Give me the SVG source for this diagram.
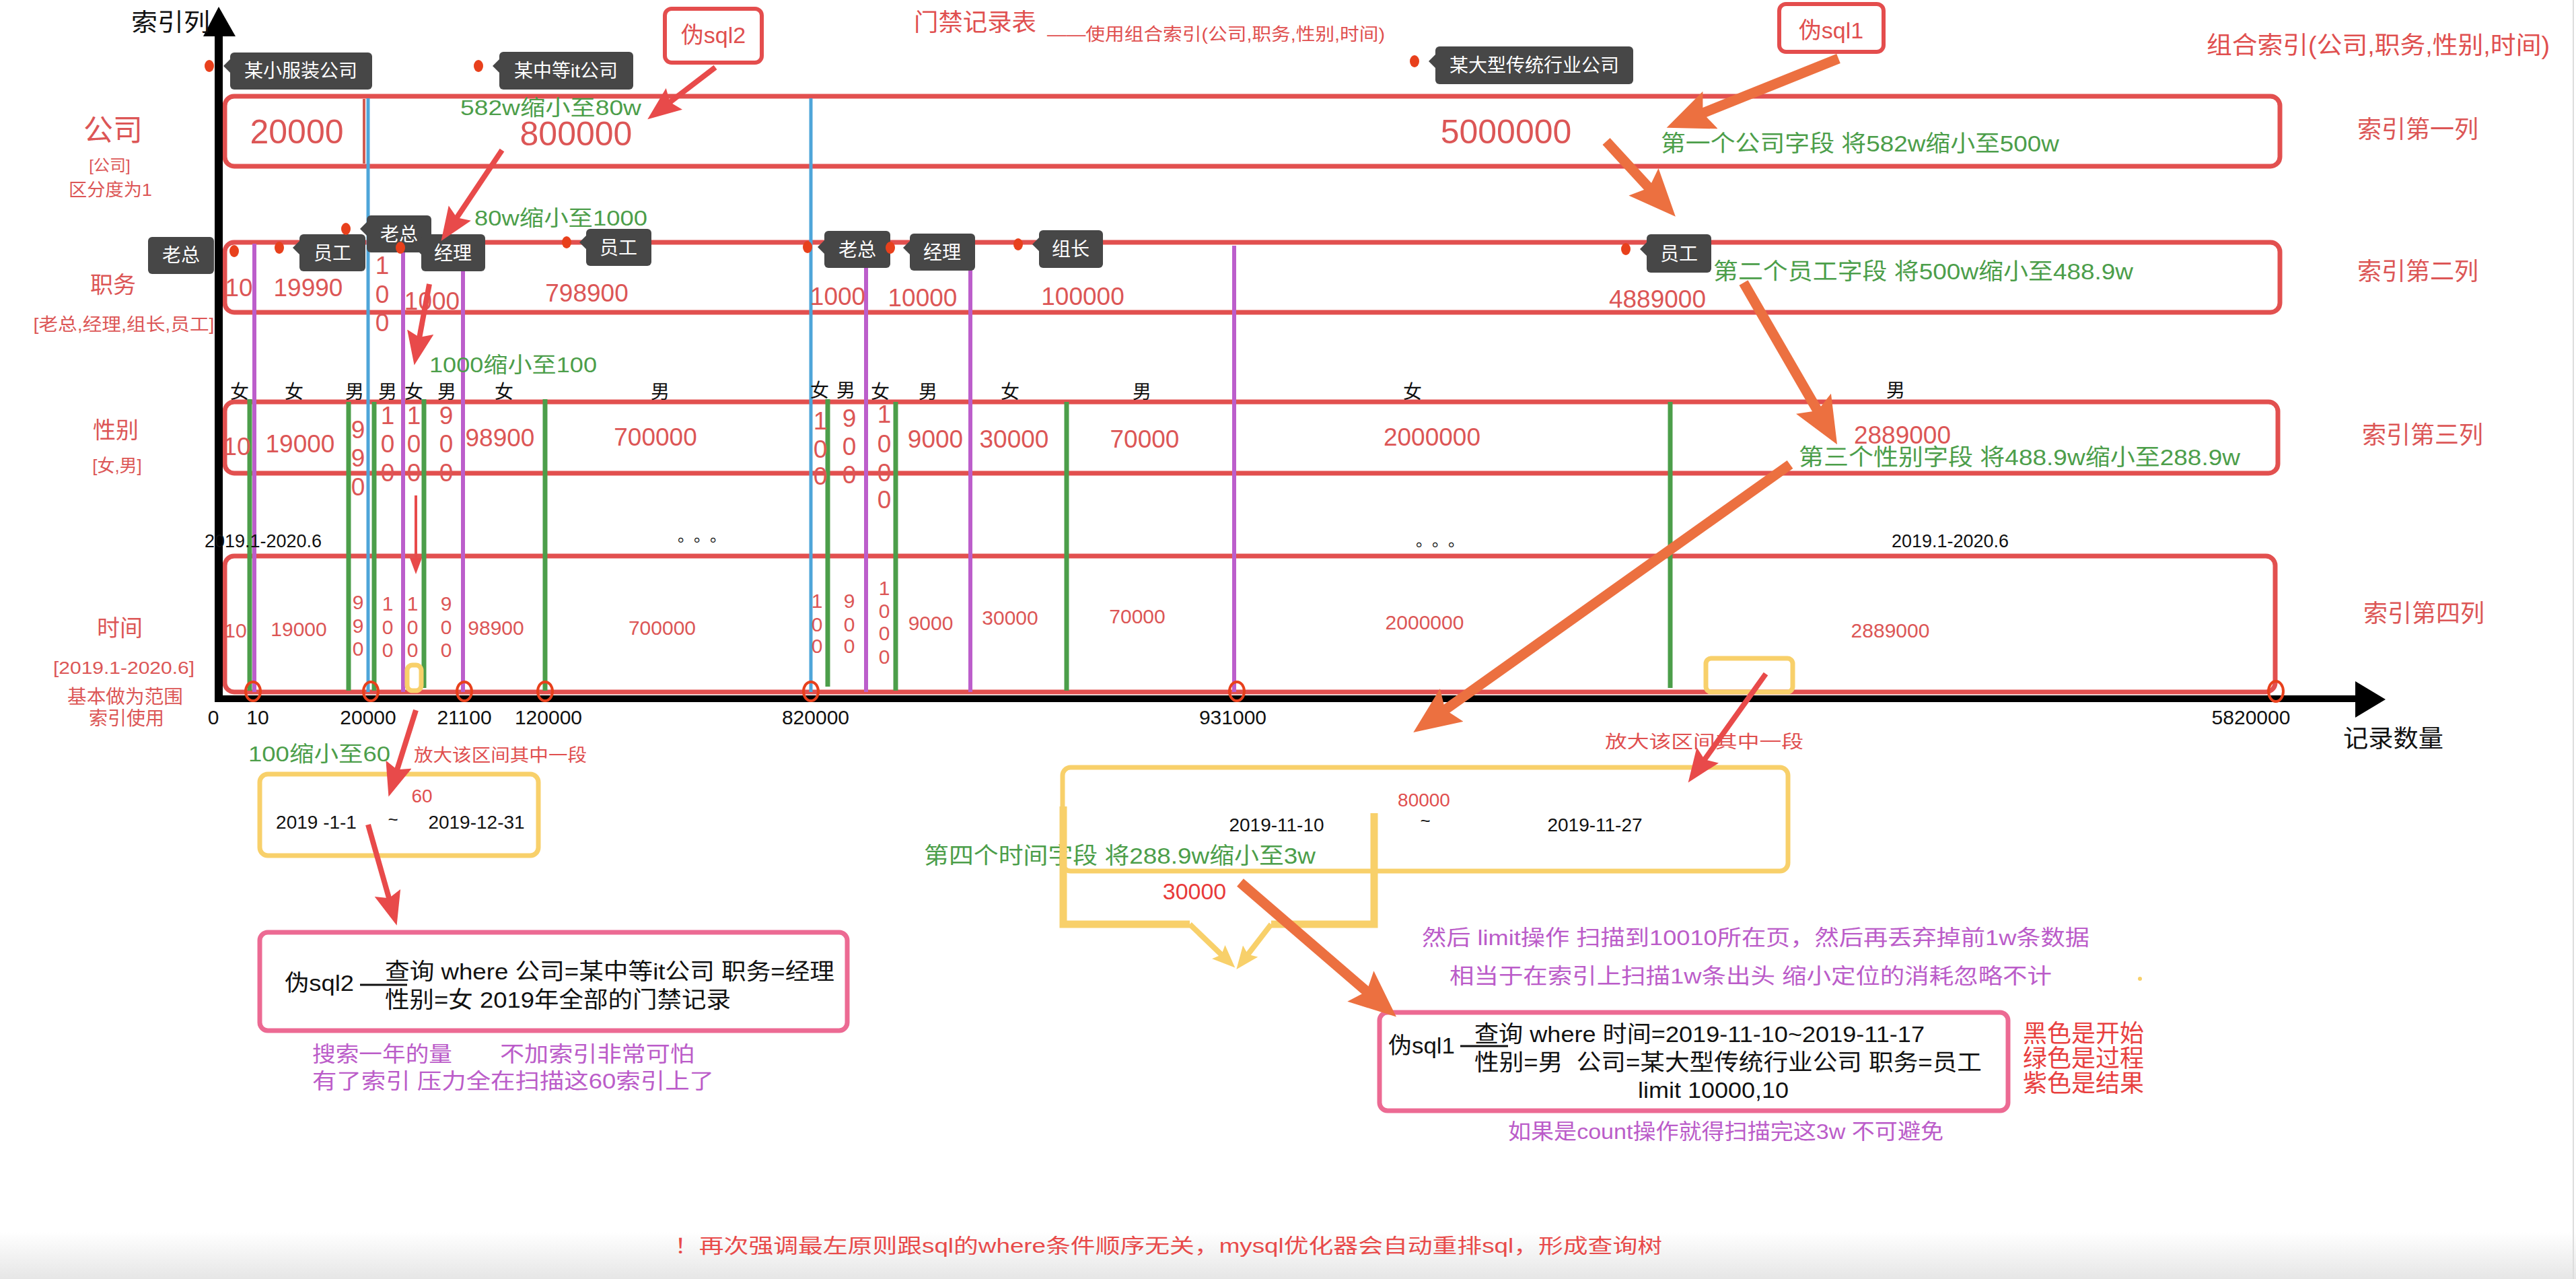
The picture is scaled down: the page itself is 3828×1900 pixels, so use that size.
<svg xmlns="http://www.w3.org/2000/svg" width="3828" height="1900" viewBox="0 0 3828 1900">
<defs>
<style>
text{font-family:"Liberation Sans","Noto Sans CJK SC",sans-serif}
.row{fill:none;stroke:#e2504f;stroke-width:7}
.tagbg{fill:#474747}
.tagtx{fill:#fff;font-size:28px;text-anchor:middle}
.dot{fill:#e8401c}
.n1{fill:#dc5656;font-size:50px;text-anchor:middle}
.n2{fill:#dc5656;font-size:37px;text-anchor:middle}
.n4{fill:#dc5656;font-size:30px;text-anchor:middle}
.g{fill:#4c9e4a;font-size:32px}
.g2{fill:#4c9e4a;font-size:34px}
.r{fill:#e04f4f}
.p{fill:#bb5cc9;font-size:32px}
.k{fill:#111}
.sex{fill:#111;font-size:28px;text-anchor:middle}
.tick{fill:#111;font-size:30px;text-anchor:middle}
.lab{fill:#dc5656;text-anchor:middle}
.blue{stroke:#4ea5d9;stroke-width:5}
.purple{stroke:#bc5ecb;stroke-width:6}
.green{stroke:#4c9e4a;stroke-width:7}
.circ{fill:none;stroke:#e8401c;stroke-width:4}
.yel{fill:none;stroke:#f8d06a;stroke-width:7}
.pink{fill:none;stroke:#ec6a93;stroke-width:7}
.oarr{stroke:#ec7040;stroke-width:15;fill:none;marker-end:url(#mo)}
.rarr{stroke:#e84a4a;stroke-width:8;fill:none;marker-end:url(#mr)}
</style>
<marker id="mo" markerUnits="userSpaceOnUse" markerWidth="80" markerHeight="70" refX="20" refY="30" orient="auto"><path d="M0,0 L70,30 L0,60 L12,30 Z" fill="#ec7040"/></marker>
<marker id="mr" markerUnits="userSpaceOnUse" markerWidth="60" markerHeight="50" refX="15" refY="20" orient="auto"><path d="M0,0 L50,20 L0,40 L8,20 Z" fill="#e84a4a"/></marker>
<marker id="ms" markerUnits="userSpaceOnUse" markerWidth="30" markerHeight="24" refX="8" refY="9" orient="auto"><path d="M0,0 L24,9 L0,18 Z" fill="#e84a4a"/></marker>
<marker id="my" markerUnits="userSpaceOnUse" markerWidth="40" markerHeight="34" refX="10" refY="14" orient="auto"><path d="M0,0 L34,14 L0,28 L6,14 Z" fill="#f8d06a"/></marker>
<linearGradient id="bot" x1="0" y1="0" x2="0" y2="1"><stop offset="0" stop-color="#ffffff"/><stop offset="1" stop-color="#e6e6e6"/></linearGradient>
</defs>
<rect width="3828" height="1900" fill="#fff"/>
<rect x="0" y="1830" width="3828" height="70" fill="url(#bot)"/>
<line x1="3824" y1="0" x2="3824" y2="1900" stroke="#dddddd" stroke-width="2"/>

<g id="title">
<text x="1358" y="46" class="r" font-size="36" textLength="182" lengthAdjust="spacingAndGlyphs">门禁记录表</text>
<text x="1556" y="60" class="r" font-size="26" textLength="502" lengthAdjust="spacingAndGlyphs">——使用组合索引(公司,职务,性别,时间)</text>
<text x="3279" y="80" class="r" font-size="36" textLength="510" lengthAdjust="spacingAndGlyphs">组合索引(公司,职务,性别,时间)</text>
</g>

<g id="row-labels">
<text x="168" y="209" class="lab" font-size="44">公司</text>
<text x="163" y="254" class="lab" font-size="24">[公司]</text>
<text x="164" y="291" class="lab" font-size="26" textLength="124" lengthAdjust="spacingAndGlyphs">区分度为1</text>
<text x="168" y="435" class="lab" font-size="34">职务</text>
<text x="184" y="491" class="lab" font-size="26" textLength="269" lengthAdjust="spacingAndGlyphs">[老总,经理,组长,员工]</text>
<text x="172" y="651" class="lab" font-size="34">性别</text>
<text x="174" y="701" class="lab" font-size="26">[女,男]</text>
<text x="178" y="945" class="lab" font-size="34">时间</text>
<text x="184" y="1001" class="lab" font-size="26" textLength="210" lengthAdjust="spacingAndGlyphs">[2019.1-2020.6]</text>
<text x="186" y="1045" class="lab" font-size="28" textLength="172" lengthAdjust="spacingAndGlyphs">基本做为范围</text>
<text x="188" y="1077" class="lab" font-size="28">索引使用</text>
<text x="3593" y="205" class="lab" font-size="36">索引第一列</text>
<text x="3593" y="416" class="lab" font-size="36">索引第二列</text>
<text x="3600" y="659" class="lab" font-size="36">索引第三列</text>
<text x="3602" y="924" class="lab" font-size="36">索引第四列</text>
</g>

<g id="rows">
<rect x="334" y="143" width="3054" height="104" rx="14" class="row"/>
<line x1="541" y1="147" x2="541" y2="243" stroke="#d25a50" stroke-width="4"/>
<rect x="334" y="360" width="3054" height="104" rx="14" class="row"/>
<rect x="334" y="597" width="3051" height="106" rx="14" class="row"/>
<rect x="334" y="826" width="3047" height="202" rx="14" class="row"/>
</g>

<g id="dividers">
<line x1="547" y1="146" x2="547" y2="1028" class="blue"/>
<line x1="1205" y1="146" x2="1205" y2="1028" class="blue"/>
<line x1="378" y1="362" x2="378" y2="1028" class="purple"/>
<line x1="599" y1="362" x2="599" y2="1028" class="purple"/>
<line x1="688" y1="362" x2="688" y2="1028" class="purple"/>
<line x1="1287" y1="362" x2="1287" y2="1028" class="purple"/>
<line x1="1442" y1="362" x2="1442" y2="1028" class="purple"/>
<line x1="1834" y1="365" x2="1834" y2="1028" class="purple"/>
<line x1="371" y1="593" x2="371" y2="1026" class="green"/>
<line x1="518" y1="597" x2="518" y2="1026" class="green"/>
<line x1="556" y1="597" x2="556" y2="1026" class="green"/>
<line x1="630" y1="593" x2="630" y2="1022" class="green"/>
<line x1="810" y1="593" x2="810" y2="1026" class="green"/>
<line x1="1230" y1="593" x2="1230" y2="1020" class="green"/>
<line x1="1331" y1="597" x2="1331" y2="1026" class="green"/>
<line x1="1585" y1="597" x2="1585" y2="1026" class="green"/>
<line x1="2482" y1="597" x2="2482" y2="1022" class="green"/>
</g>

<g id="axes">
<line x1="325" y1="40" x2="325" y2="1043" stroke="#000" stroke-width="12"/>
<polygon points="302,54 325,10 350,54" fill="#000"/>
<line x1="319" y1="1038" x2="3506" y2="1038" stroke="#000" stroke-width="10"/>
<polygon points="3500,1012 3545,1039 3500,1066" fill="#000"/>
<text x="195" y="46" class="k" font-size="36" textLength="117" lengthAdjust="spacingAndGlyphs">索引列</text>
<text x="3482" y="1110" class="k" font-size="36" textLength="149" lengthAdjust="spacingAndGlyphs">记录数量</text>
<text x="317" y="1076" class="tick">0</text>
<text x="383" y="1076" class="tick">10</text>
<text x="547" y="1076" class="tick">20000</text>
<text x="690" y="1076" class="tick">21100</text>
<text x="815" y="1076" class="tick">120000</text>
<text x="1212" y="1076" class="tick">820000</text>
<text x="1832" y="1076" class="tick">931000</text>
<text x="3345" y="1076" class="tick">5820000</text>
<ellipse cx="376" cy="1027" rx="11" ry="14" class="circ"/>
<ellipse cx="551" cy="1027" rx="11" ry="14" class="circ"/>
<ellipse cx="690" cy="1027" rx="11" ry="14" class="circ"/>
<ellipse cx="810" cy="1027" rx="11" ry="14" class="circ"/>
<ellipse cx="1205" cy="1027" rx="11" ry="14" class="circ"/>
<ellipse cx="1838" cy="1027" rx="11" ry="14" class="circ"/>
<ellipse cx="3382" cy="1027" rx="11" ry="15" class="circ"/>
<rect x="605" y="988" width="21" height="38" rx="8" class="yel" stroke-width="5"/>
<rect x="2535" y="978" width="129" height="50" rx="8" class="yel"/>
</g>

<g id="row1-values">
<text x="441" y="213" class="n1">20000</text>
<text x="856" y="216" class="n1">800000</text>
<text x="2238" y="213" class="n1">5000000</text>
</g>

<g id="row2-values">
<text x="355" y="440" class="n2">10</text>
<text x="458" y="440" class="n2">19990</text>
<text class="n2"><tspan x="568" y="407">1</tspan><tspan x="568" y="450">0</tspan><tspan x="568" y="492">0</tspan></text>
<text x="642" y="460" class="n2">1000</text>
<text x="872" y="448" class="n2">798900</text>
<text x="1245" y="453" class="n2">1000</text>
<text x="1371" y="455" class="n2">10000</text>
<text x="1609" y="453" class="n2">100000</text>
<text x="2463" y="457" class="n2">4889000</text>
</g>

<g id="row3-values">
<text x="352" y="676" class="n2">10</text>
<text x="446" y="672" class="n2">19000</text>
<text class="n2"><tspan x="532" y="651">9</tspan><tspan x="532" y="693">9</tspan><tspan x="532" y="736">0</tspan></text>
<text class="n2"><tspan x="576" y="630">1</tspan><tspan x="576" y="672">0</tspan><tspan x="576" y="715">0</tspan></text>
<text class="n2"><tspan x="615" y="630">1</tspan><tspan x="615" y="672">0</tspan><tspan x="615" y="715">0</tspan></text>
<text class="n2"><tspan x="663" y="630">9</tspan><tspan x="663" y="672">0</tspan><tspan x="663" y="715">0</tspan></text>
<text x="743" y="663" class="n2">98900</text>
<text x="974" y="662" class="n2">700000</text>
<text class="n2"><tspan x="1219" y="638">1</tspan><tspan x="1219" y="680">0</tspan><tspan x="1219" y="720">0</tspan></text>
<text class="n2"><tspan x="1262" y="634">9</tspan><tspan x="1262" y="676">0</tspan><tspan x="1262" y="718">0</tspan></text>
<text class="n2"><tspan x="1314" y="628">1</tspan><tspan x="1314" y="672">0</tspan><tspan x="1314" y="715">0</tspan><tspan x="1314" y="755">0</tspan></text>
<text x="1390" y="665" class="n2">9000</text>
<text x="1507" y="665" class="n2">30000</text>
<text x="1701" y="665" class="n2">70000</text>
<text x="2128" y="662" class="n2">2000000</text>
<text x="2827" y="659" class="n2">2889000</text>
</g>

<g id="sex-labels">
<text x="356" y="592" class="sex">女</text>
<text x="437" y="592" class="sex">女</text>
<text x="527" y="592" class="sex">男</text>
<text x="576" y="592" class="sex">男</text>
<text x="615" y="592" class="sex">女</text>
<text x="664" y="592" class="sex">男</text>
<text x="749" y="592" class="sex">女</text>
<text x="981" y="592" class="sex">男</text>
<text x="1218" y="590" class="sex">女</text>
<text x="1257" y="590" class="sex">男</text>
<text x="1308" y="592" class="sex">女</text>
<text x="1379" y="592" class="sex">男</text>
<text x="1501" y="592" class="sex">女</text>
<text x="1697" y="592" class="sex">男</text>
<text x="2099" y="592" class="sex">女</text>
<text x="2817" y="590" class="sex">男</text>
</g>

<g id="time-labels">
<text x="391" y="813" class="k" font-size="27" text-anchor="middle">2019.1-2020.6</text>
<text x="2898" y="813" class="k" font-size="27" text-anchor="middle">2019.1-2020.6</text>
<text x="1007" y="804" class="k" font-size="24" textLength="72" lengthAdjust="spacing">。。。</text>
<text x="2104" y="811" class="k" font-size="24" textLength="72" lengthAdjust="spacing">。。。</text>
</g>

<g id="row4-values">
<text x="350" y="947" class="n4">10</text>
<text x="444" y="945" class="n4">19000</text>
<text class="n4"><tspan x="532" y="905">9</tspan><tspan x="532" y="940">9</tspan><tspan x="532" y="974">0</tspan></text>
<text class="n4"><tspan x="576" y="907">1</tspan><tspan x="576" y="942">0</tspan><tspan x="576" y="976">0</tspan></text>
<text class="n4"><tspan x="613" y="907">1</tspan><tspan x="613" y="942">0</tspan><tspan x="613" y="976">0</tspan></text>
<text class="n4"><tspan x="663" y="907">9</tspan><tspan x="663" y="942">0</tspan><tspan x="663" y="976">0</tspan></text>
<text x="737" y="943" class="n4">98900</text>
<text x="984" y="943" class="n4">700000</text>
<text class="n4"><tspan x="1214" y="903">1</tspan><tspan x="1214" y="938">0</tspan><tspan x="1214" y="970">0</tspan></text>
<text class="n4"><tspan x="1262" y="903">9</tspan><tspan x="1262" y="938">0</tspan><tspan x="1262" y="970">0</tspan></text>
<text class="n4"><tspan x="1314" y="884">1</tspan><tspan x="1314" y="918">0</tspan><tspan x="1314" y="951">0</tspan><tspan x="1314" y="986">0</tspan></text>
<text x="1383" y="936" class="n4">9000</text>
<text x="1501" y="928" class="n4">30000</text>
<text x="1690" y="926" class="n4">70000</text>
<text x="2117" y="935" class="n4">2000000</text>
<text x="2809" y="947" class="n4">2889000</text>
</g>

<g id="tag-small-clothing">
<ellipse cx="311" cy="98" rx="7" ry="9" class="dot"/>
<polygon points="342,88 332,98 342,108" class="tagbg"/>
<rect x="342" y="78" width="211" height="55" rx="6" class="tagbg"/>
<text x="447" y="115" class="tagtx">某小服装公司</text>
</g>
<g id="tag-mid-it">
<ellipse cx="711" cy="98" rx="7" ry="9" class="dot"/>
<polygon points="742,88 732,98 742,108" class="tagbg"/>
<rect x="742" y="77" width="199" height="56" rx="6" class="tagbg"/>
<text x="841" y="115" class="tagtx">某中等it公司</text>
</g>
<g id="tag-large-trad">
<ellipse cx="2102" cy="91" rx="7" ry="9" class="dot"/>
<polygon points="2133,81 2123,91 2133,101" class="tagbg"/>
<rect x="2133" y="69" width="294" height="56" rx="6" class="tagbg"/>
<text x="2280" y="107" class="tagtx">某大型传统行业公司</text>
</g>
<g id="tag-boss-1">
<rect x="220" y="352" width="98" height="55" rx="6" class="tagbg"/>
<text x="269" y="389" class="tagtx">老总</text>
<ellipse cx="348" cy="373" rx="7" ry="9" class="dot"/>
</g>
<g id="tag-staff-1">
<ellipse cx="415" cy="368" rx="7" ry="9" class="dot"/>
<polygon points="445,358 435,368 445,378" class="tagbg"/>
<rect x="445" y="348" width="98" height="55" rx="6" class="tagbg"/>
<text x="494" y="386" class="tagtx">员工</text>
</g>
<g id="tag-boss-2">
<ellipse cx="514" cy="340" rx="7" ry="9" class="dot"/>
<polygon points="545,330 535,340 545,350" class="tagbg"/>
<rect x="545" y="320" width="96" height="55" rx="6" class="tagbg"/>
<text x="593" y="358" class="tagtx">老总</text>
</g>
<g id="tag-manager-1">
<ellipse cx="595" cy="368" rx="7" ry="9" class="dot"/>
<polygon points="626,358 616,368 626,378" class="tagbg"/>
<rect x="626" y="348" width="95" height="55" rx="6" class="tagbg"/>
<text x="673" y="386" class="tagtx">经理</text>
</g>
<g id="tag-staff-2">
<ellipse cx="842" cy="360" rx="7" ry="9" class="dot"/>
<polygon points="871,350 861,360 871,370" class="tagbg"/>
<rect x="871" y="340" width="97" height="55" rx="6" class="tagbg"/>
<text x="919" y="378" class="tagtx">员工</text>
</g>
<g id="tag-boss-3">
<ellipse cx="1200" cy="367" rx="7" ry="9" class="dot"/>
<polygon points="1225,357 1215,367 1225,377" class="tagbg"/>
<rect x="1225" y="343" width="98" height="55" rx="6" class="tagbg"/>
<text x="1274" y="381" class="tagtx">老总</text>
</g>
<g id="tag-manager-2">
<ellipse cx="1323" cy="368" rx="7" ry="9" class="dot"/>
<polygon points="1352,358 1342,368 1352,378" class="tagbg"/>
<rect x="1352" y="347" width="97" height="55" rx="6" class="tagbg"/>
<text x="1400" y="385" class="tagtx">经理</text>
</g>
<g id="tag-leader">
<ellipse cx="1513" cy="363" rx="7" ry="9" class="dot"/>
<polygon points="1544,353 1534,363 1544,373" class="tagbg"/>
<rect x="1544" y="342" width="95" height="56" rx="6" class="tagbg"/>
<text x="1591" y="380" class="tagtx">组长</text>
</g>
<g id="tag-staff-3">
<ellipse cx="2416" cy="370" rx="7" ry="9" class="dot"/>
<polygon points="2447,360 2437,370 2447,380" class="tagbg"/>
<rect x="2447" y="348" width="96" height="57" rx="6" class="tagbg"/>
<text x="2495" y="387" class="tagtx">员工</text>
</g>

<g id="fake-sql2-tag">
<rect x="988" y="13" width="144" height="80" rx="10" fill="#fff" stroke="#e44d4d" stroke-width="6"/>
<text x="1060" y="64" class="r" font-size="34" text-anchor="middle">伪sql2</text>
</g>
<g id="fake-sql1-tag">
<rect x="2644" y="6" width="155" height="71" rx="10" fill="#fff" stroke="#e44d4d" stroke-width="6"/>
<text x="2721" y="57" class="r" font-size="34" text-anchor="middle">伪sql1</text>
</g>

<g id="notes-green">
<text x="684" y="171" class="g" textLength="269" lengthAdjust="spacingAndGlyphs">582w缩小至80w</text>
<text x="705" y="335" class="g" textLength="257" lengthAdjust="spacingAndGlyphs">80w缩小至1000</text>
<text x="638" y="553" class="g" textLength="249" lengthAdjust="spacingAndGlyphs">1000缩小至100</text>
<text x="369" y="1131" class="g" textLength="211" lengthAdjust="spacingAndGlyphs">100缩小至60</text>
<text x="2468" y="225" class="g2" textLength="592" lengthAdjust="spacingAndGlyphs">第一个公司字段 将582w缩小至500w</text>
<text x="2546" y="415" class="g2" textLength="624" lengthAdjust="spacingAndGlyphs">第二个员工字段 将500w缩小至488.9w</text>
<text x="2673" y="691" class="g2" textLength="656" lengthAdjust="spacingAndGlyphs">第三个性别字段 将488.9w缩小至288.9w</text>
<text x="1373" y="1283" class="g2" textLength="582" lengthAdjust="spacingAndGlyphs">第四个时间字段 将288.9w缩小至3w</text>
</g>

<g id="zoom-box-1">
<rect x="386" y="1150" width="414" height="121" rx="12" class="yel"/>
<text x="615" y="1131" class="r" font-size="26" textLength="257" lengthAdjust="spacingAndGlyphs">放大该区间其中一段</text>
<text x="627" y="1192" class="r" font-size="28" text-anchor="middle">60</text>
<text x="470" y="1231" class="k" font-size="28" text-anchor="middle">2019 -1-1</text>
<text x="584" y="1226" class="k" font-size="26" text-anchor="middle">~</text>
<text x="708" y="1231" class="k" font-size="28" text-anchor="middle">2019-12-31</text>
</g>

<g id="zoom-box-2">
<rect x="1579" y="1140" width="1078" height="154" rx="12" class="yel"/>
<path d="M1580,1198 V1373 H1768 M2042,1208 V1373 H1889" fill="none" stroke="#f8d06a" stroke-width="11"/>
<line x1="1768" y1="1373" x2="1818" y2="1421" stroke="#f8d06a" stroke-width="8" marker-end="url(#my)"/>
<line x1="1889" y1="1373" x2="1852" y2="1421" stroke="#f8d06a" stroke-width="8" marker-end="url(#my)"/>
<text x="2385" y="1111" class="r" font-size="26" textLength="295" lengthAdjust="spacingAndGlyphs">放大该区间其中一段</text>
<text x="2116" y="1198" class="r" font-size="28" text-anchor="middle">80000</text>
<text x="1897" y="1235" class="k" font-size="28" text-anchor="middle">2019-11-10</text>
<text x="2118" y="1228" class="k" font-size="26" text-anchor="middle">~</text>
<text x="2370" y="1235" class="k" font-size="28" text-anchor="middle">2019-11-27</text>
<text x="1775" y="1336" fill="#e83a3a" font-size="34" text-anchor="middle">30000</text>
</g>

<g id="sql2-box">
<rect x="386" y="1385" width="873" height="146" rx="12" class="pink"/>
<text x="423" y="1472" class="k" font-size="34" textLength="103" lengthAdjust="spacingAndGlyphs">伪sql2</text>
<line x1="535" y1="1463" x2="605" y2="1463" stroke="#111" stroke-width="3"/>
<text x="572" y="1455" class="k" font-size="34" textLength="668" lengthAdjust="spacingAndGlyphs">查询 where 公司=某中等it公司 职务=经理</text>
<text x="572" y="1497" class="k" font-size="34" textLength="514" lengthAdjust="spacingAndGlyphs">性别=女 2019年全部的门禁记录</text>
</g>
<g id="sql2-notes">
<text x="464" y="1577" class="p" textLength="208" lengthAdjust="spacingAndGlyphs">搜索一年的量</text>
<text x="743" y="1577" class="p" textLength="289" lengthAdjust="spacingAndGlyphs">不加索引非常可怕</text>
<text x="464" y="1617" class="p" textLength="597" lengthAdjust="spacingAndGlyphs">有了索引 压力全在扫描这60索引上了</text>
</g>

<g id="sql1-box">
<rect x="2050" y="1504" width="934" height="146" rx="12" class="pink"/>
<text x="2063" y="1565" class="k" font-size="34" textLength="99" lengthAdjust="spacingAndGlyphs">伪sql1</text>
<line x1="2170" y1="1554" x2="2241" y2="1554" stroke="#111" stroke-width="3"/>
<text x="2191" y="1548" class="k" font-size="34" textLength="669" lengthAdjust="spacingAndGlyphs">查询 where 时间=2019-11-10~2019-11-17</text>
<text x="2191" y="1590" class="k" font-size="34" textLength="754" lengthAdjust="spacingAndGlyphs" xml:space="preserve">性别=男  公司=某大型传统行业公司 职务=员工</text>
<text x="2434" y="1631" class="k" font-size="34" textLength="224" lengthAdjust="spacingAndGlyphs">limit 10000,10</text>
</g>
<g id="sql1-notes">
<text x="2113" y="1404" class="p" textLength="992" lengthAdjust="spacingAndGlyphs">然后 limit操作 扫描到10010所在页，然后再丢弃掉前1w条数据</text>
<text x="2154" y="1461" class="p" textLength="895" lengthAdjust="spacingAndGlyphs">相当于在索引上扫描1w条出头 缩小定位的消耗忽略不计</text>
<circle cx="3180" cy="1454" r="3" fill="#f8d06a"/>
<text x="2241" y="1692" class="p" textLength="647" lengthAdjust="spacingAndGlyphs">如果是count操作就得扫描完这3w 不可避免</text>
</g>

<g id="legend">
<text x="3006" y="1548" fill="#e8403f" font-size="36" textLength="180" lengthAdjust="spacingAndGlyphs">黑色是开始</text>
<text x="3006" y="1585" fill="#e8403f" font-size="36" textLength="180" lengthAdjust="spacingAndGlyphs">绿色是过程</text>
<text x="3006" y="1622" fill="#e8403f" font-size="36" textLength="180" lengthAdjust="spacingAndGlyphs">紫色是结果</text>
</g>

<g id="footer">
<text x="1002" y="1861" fill="#e84a4a" font-size="30" textLength="1468" lengthAdjust="spacingAndGlyphs">！再次强调最左原则跟sql的where条件顺序无关，mysql优化器会自动重排sql，形成查询树</text>
</g>

<g id="connectors">
<line x1="2732" y1="87" x2="2523" y2="171" class="oarr"/>
<line x1="2387" y1="210" x2="2456" y2="285" class="oarr"/>
<line x1="2591" y1="420" x2="2705" y2="617" class="oarr"/>
<line x1="2660" y1="690" x2="2141" y2="1059" class="oarr"/>
<line x1="1843" y1="1311" x2="2037" y2="1478" class="oarr"/>
<line x1="1063" y1="100" x2="990" y2="156" class="rarr"/>
<line x1="746" y1="223" x2="675" y2="329" class="rarr"/>
<line x1="638" y1="422" x2="622" y2="508" class="rarr"/>
<line x1="618" y1="736" x2="618" y2="837" stroke="#e84a4a" stroke-width="4" marker-end="url(#ms)"/>
<line x1="618" y1="1055" x2="588" y2="1150" class="rarr"/>
<line x1="547" y1="1225" x2="580" y2="1341" class="rarr"/>
<line x1="2624" y1="1001" x2="2529" y2="1134" class="rarr"/>
</g>
</svg>
